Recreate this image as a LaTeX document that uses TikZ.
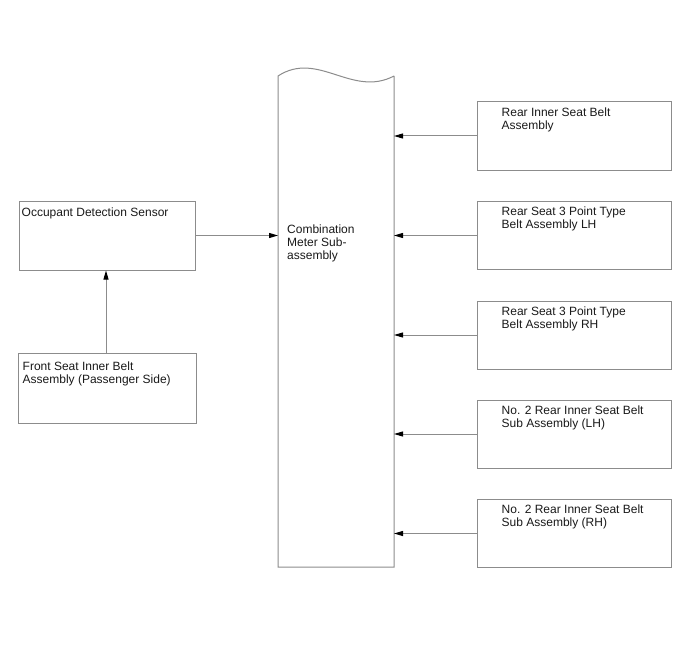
\documentclass[tikz,border=0pt]{standalone}
\usepackage{fontspec}
\setmainfont{Liberation Sans}
\usetikzlibrary{arrows.meta,calc}
\definecolor{frame}{HTML}{8C8C8C}
\definecolor{ink}{HTML}{1A1A1A}
\tikzset{
  unit/.style={draw=frame, line width=1pt, rectangle, inner sep=0pt},
  sidebox/.style={unit, minimum width=176pt, minimum height=69pt},
  feedbox/.style={unit, minimum width=194pt, minimum height=68pt},
  caption/.style={anchor=north west, inner sep=0pt, align=left, text=ink, font=\fontsize{12}{13}\selectfont},
  link/.style={draw=frame, line width=1pt, ->}
}

\begin{document}
\begin{tikzpicture}[x=1pt, y=-1pt, >={Triangle[length=9pt,width=5pt,color=black]}]
\useasboundingbox[fill=white] (0,0) rectangle (688,658);

% combination meter (wavy top)
\coordinate (mTL) at (278,76); \coordinate (mTR) at (394,76);
\coordinate (mBL) at (278,567); \coordinate (mBR) at (394,567);
\draw[frame, line width=1pt] (mTR) -- (mBR) -- (mBL) -- (mTL)
  .. controls (318,50) and (352,98) .. (mTR);
\node[caption] (meterT) at (287,225) {Combination\\Meter Sub-\\assembly};

% left side
\node[sidebox] (ods) at (107,235.5) {};
\node[caption] (odsT) at ($(ods.north west)+(3,7)$) {Occupant Detection Sensor};
\node[sidebox, minimum width=178pt, minimum height=70pt] (front) at (107,388) {};
\node[caption] (frontT) at ($(front.north west)+(5,9)$) {Front Seat Inner Belt\\Assembly (Passenger Side)};

\draw[link] (ods.east) -- (ods.east -| mTL);
\draw[link] (front.north -| 106,0) -- (ods.south -| 106,0);

% right side
\foreach \n/\y/\t in {r1/136/{Rear Inner Seat Belt\\Assembly},
                      r2/235.5/{Rear Seat 3 Point Type\\Belt Assembly LH},
                      r3/335/{Rear Seat 3 Point Type\\Belt Assembly RH},
                      r4/434/{No. 2 Rear Inner Seat Belt\\Sub Assembly (LH)},
                      r5/533.5/{No. 2 Rear Inner Seat Belt\\Sub Assembly (RH)}}{
  \node[feedbox] (\n) at (574,\y) {};
  \node[caption] (\n T) at ($(\n.north west)+(25,6)$) {\t};
  \draw[link] (\n.west) -- (\n.west -| mTR);
}
\end{tikzpicture}
\end{document}
